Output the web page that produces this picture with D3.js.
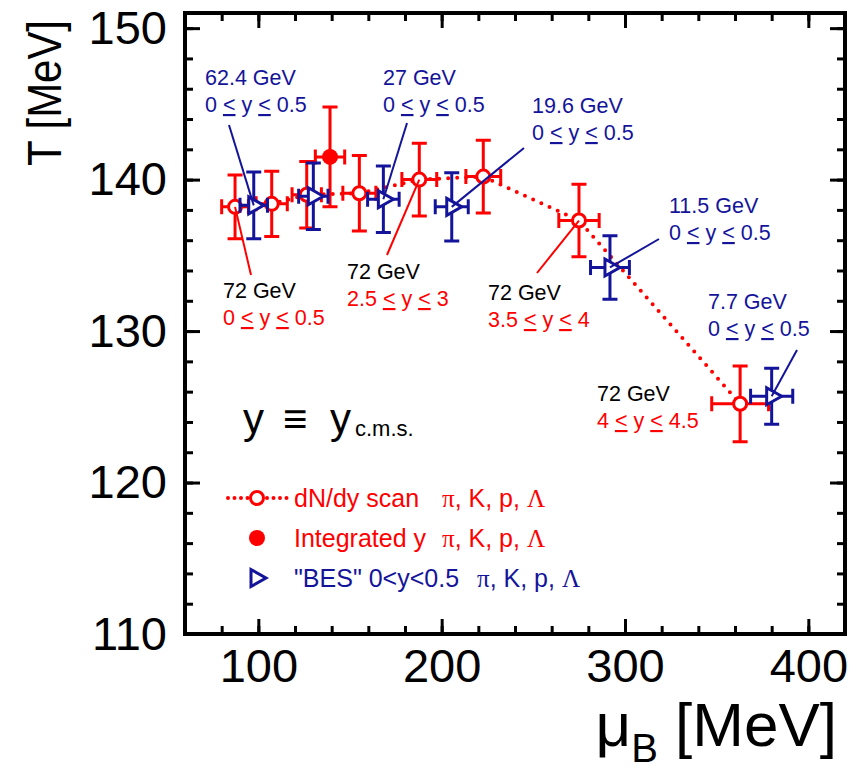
<!DOCTYPE html>
<html>
<head>
<meta charset="utf-8">
<script src="https://cdn.jsdelivr.net/npm/d3@7"></script>
<style>
  body { margin: 0; background: #fff; }
  svg text { font-family: "Liberation Sans", Arial, sans-serif; }
</style>
</head>
<body>
<svg id="chart" width="860" height="780"></svg>
<script>
// dN/dy scan, 72 GeV (open red circles, dotted line)
var scanMu    = [87.3, 107.3, 126.4, 155.1, 187.8, 222.7, 274.9, 362.8];
var scanT     = [138.2, 138.4, 139.0, 139.1, 140.0, 140.2, 137.3, 125.2];
var scanMuErr = [7.3, 8.5, 8, 9, 9.5, 9.5, 11, 15.5];
var scanTErr  = [2.1, 2.15, 2.2, 2.5, 2.4, 2.4, 2.4, 2.5];

// integrated y (filled red circle)
var integMu    = [139.1];
var integT     = [141.5];
var integMuErr = [8];
var integTErr  = [3.3];

// "BES" 0<y<0.5 (open blue triangles)
var besMu    = [97.5, 130.0, 168.2, 205.5, 291.8, 380.0];
var besT     = [138.3, 138.9, 138.7, 138.2, 134.2, 125.7];
var besMuErr = [7.5, 8, 8.6, 9, 10.6, 11.5];
var besTErr  = [2.2, 2.2, 2.2, 2.25, 2.1, 1.85];

var xTicks = [100, 200, 300, 400];
var yTicks = [110, 120, 130, 140, 150];

var RED = "#ff0000", BLUE = "#14149b";

var margin = {top: 13, right: 15, bottom: 146, left: 185},
    width  = 860 - margin.left - margin.right,
    height = 780 - margin.top - margin.bottom;

var x = d3.scaleLinear().domain([60, 420]).range([0, width]);
var y = d3.scaleLinear().domain([110, 151]).range([height, 0]);

var svg = d3.select("#chart");
var g = svg.append("g")
           .attr("transform", "translate(" + margin.left + "," + margin.top + ")");

function rows(mu, t, muErr, tErr) {
  return mu.map(function(m, i) { return {mu: m, t: t[i], muErr: muErr[i], tErr: tErr[i]}; });
}
var scan  = rows(scanMu, scanT, scanMuErr, scanTErr);
var integ = rows(integMu, integT, integMuErr, integTErr);
var bes   = rows(besMu, besT, besMuErr, besTErr);

// ---- axes: inward ticks on all four sides
function ticks(axis, vals, size, pad, fmt) {
  return axis.tickValues(vals).tickSize(-size).tickPadding(pad).tickFormat(fmt);
}
var xMinor = d3.range(60, 421, 20), yMinor = d3.range(110, 151, 2);
var none = function() { return ""; };

var axes = [
  [d3.axisBottom(x), xMinor, 8,  0,  none, "translate(0," + height + ")"],
  [d3.axisBottom(x), xTicks, 15, 15, d3.format("d"), "translate(0," + height + ")"],
  [d3.axisTop(x),    xMinor, 8,  0,  none, null],
  [d3.axisTop(x),    xTicks, 15, 0,  none, null],
  [d3.axisLeft(y),   yMinor, 8,  0,  none, null],
  [d3.axisLeft(y),   yTicks, 15, 18, d3.format("d"), null],
  [d3.axisRight(y),  yMinor, 8,  0,  none, "translate(" + width + ",0)"],
  [d3.axisRight(y),  yTicks, 15, 0,  none, "translate(" + width + ",0)"]
];
axes.forEach(function(a) {
  var ax = g.append("g").attr("transform", a[5])
            .call(ticks(a[0], a[1], a[2], a[3], a[4]));
  ax.select(".domain").remove();
  ax.selectAll("line").attr("stroke", "#000").attr("stroke-width", 3);
  ax.selectAll("text").attr("font-size", 47)
    .attr("font-family", "Liberation Sans, Arial, sans-serif").attr("fill", "#000");
});

g.append("rect")
 .attr("width", width).attr("height", height)
 .attr("fill", "none").attr("stroke", "#000").attr("stroke-width", 4);

// axis titles
svg.append("text")
   .attr("transform", "translate(61,20)rotate(-90)")
   .attr("text-anchor", "end")
   .attr("font-size", 48)
   .attr("textLength", 146).attr("lengthAdjust", "spacingAndGlyphs")
   .text("T [MeV]");

var xt = svg.append("text").attr("x", 837).attr("y", 746)
            .attr("text-anchor", "end").attr("font-size", 62);
xt.append("tspan").text("\u03bc");
xt.append("tspan").attr("font-size", 40).attr("dy", 16).text("B");
xt.append("tspan").attr("dy", -16).text(" [MeV]");

// ---- error bars
var CAP = 7.5;
function errPath(d) {
  var cx = x(d.mu), cy = y(d.t),
      x0 = x(d.mu - d.muErr), x1 = x(d.mu + d.muErr),
      y0 = y(d.t - d.tErr),   y1 = y(d.t + d.tErr);
  return "M" + x0 + "," + cy + "H" + x1 +
         "M" + x0 + "," + (cy - CAP) + "V" + (cy + CAP) +
         "M" + x1 + "," + (cy - CAP) + "V" + (cy + CAP) +
         "M" + cx + "," + y0 + "V" + y1 +
         "M" + (cx - CAP) + "," + y0 + "H" + (cx + CAP) +
         "M" + (cx - CAP) + "," + y1 + "H" + (cx + CAP);
}
function drawErrors(data, color) {
  g.append("g").selectAll("path").data(data).enter().append("path")
   .attr("d", errPath)
   .attr("fill", "none").attr("stroke", color).attr("stroke-width", 3);
}

// dotted connecting line for the scan
var line = d3.line().x(function(d) { return x(d.mu); }).y(function(d) { return y(d.t); });
g.append("path").datum(scan).attr("d", line)
 .attr("fill", "none").attr("stroke", RED).attr("stroke-width", 4)
 .attr("stroke-linecap", "round").attr("stroke-dasharray", "0,9");

drawErrors(scan, RED);
drawErrors(integ, RED);

g.append("g").selectAll("circle").data(scan).enter().append("circle")
 .attr("cx", function(d) { return x(d.mu); }).attr("cy", function(d) { return y(d.t); })
 .attr("r", 6.5).attr("fill", "#fff").attr("stroke", RED).attr("stroke-width", 3);

g.append("g").selectAll("circle").data(integ).enter().append("circle")
 .attr("cx", function(d) { return x(d.mu); }).attr("cy", function(d) { return y(d.t); })
 .attr("r", 8).attr("fill", RED);

drawErrors(bes, BLUE);
var tri = "M-5,-8.5L10,0L-5,8.5Z";
g.append("g").selectAll("path").data(bes).enter().append("path")
 .attr("d", tri)
 .attr("transform", function(d) { return "translate(" + x(d.mu) + "," + y(d.t) + ")"; })
 .attr("fill", "#fff").attr("stroke", BLUE).attr("stroke-width", 3);

// ---- annotations (label pixel position, leader start, which point it points at)
var notes = [
  {head: "62.4 GeV", range: "0 \u2264 y \u2264 0.5", hc: BLUE, rc: BLUE, x: 205, y: 85,  from: [229, 125], to: bes[0]},
  {head: "27 GeV",   range: "0 \u2264 y \u2264 0.5", hc: BLUE, rc: BLUE, x: 383, y: 85,  from: [407, 123], to: bes[2]},
  {head: "19.6 GeV", range: "0 \u2264 y \u2264 0.5", hc: BLUE, rc: BLUE, x: 532, y: 113, from: [524, 148], to: bes[3]},
  {head: "11.5 GeV", range: "0 \u2264 y \u2264 0.5", hc: BLUE, rc: BLUE, x: 669, y: 213, from: [659, 239], to: bes[4]},
  {head: "7.7 GeV",  range: "0 \u2264 y \u2264 0.5", hc: BLUE, rc: BLUE, x: 708, y: 309, from: [797, 350], to: bes[5]},
  {head: "72 GeV", range: "0 \u2264 y \u2264 0.5", hc: "#000", rc: RED, x: 223, y: 298, from: [251, 275], to: scan[0]},
  {head: "72 GeV", range: "2.5 \u2264 y \u2264 3", hc: "#000", rc: RED, x: 347, y: 279, from: [387, 255], to: scan[4]},
  {head: "72 GeV", range: "3.5 \u2264 y \u2264 4", hc: "#000", rc: RED, x: 488, y: 300, from: [537, 273], to: scan[6]},
  {head: "72 GeV", range: "4 \u2264 y \u2264 4.5", hc: "#000", rc: RED, x: 597, y: 401, from: null, to: null}
];

// "<" with an underline, as in the original figure
function rangeText(sel, str) {
  str.split("\u2264").forEach(function(part, k) {
    if (k > 0) sel.append("tspan").attr("text-decoration", "underline").text("<");
    sel.append("tspan").text(part);
  });
}

notes.forEach(function(n) {
  if (n.from) {
    svg.append("line")
       .attr("x1", n.from[0]).attr("y1", n.from[1])
       .attr("x2", margin.left + x(n.to.mu)).attr("y2", margin.top + y(n.to.t))
       .attr("stroke", n.rc).attr("stroke-width", 2);
  }
  svg.append("text").attr("x", n.x).attr("y", n.y)
     .attr("font-size", 21.5).attr("fill", n.hc).text(n.head);
  var r = svg.append("text").attr("x", n.x).attr("y", n.y + 27)
             .attr("font-size", 21.5).attr("fill", n.rc).attr("xml:space", "preserve");
  rangeText(r, n.range);
});

// y == y_c.m.s.
var ycms = svg.append("text").attr("y", 433).attr("font-size", 42).attr("fill", "#000");
ycms.append("tspan").attr("x", 243).text("y");
ycms.append("tspan").attr("x", 283).attr("font-weight", "bold").text("\u2261");
ycms.append("tspan").attr("x", 330).text("y");
svg.append("text").attr("x", 355).attr("y", 436).attr("font-size", 22)
   .attr("font-family", "Open Sans, sans-serif").text("c.m.s.");

// ---- legend
function particles(sel) {
  sel.append("tspan").attr("font-family", "Liberation Serif, serif").text("\u03c0");
  sel.append("tspan").text(", K, p, ");
  sel.append("tspan").attr("font-family", "Liberation Serif, serif").text("\u039b");
}
var legend = svg.append("g");
legend.append("line").attr("x1", 228).attr("x2", 287).attr("y1", 498).attr("y2", 498)
      .attr("stroke", RED).attr("stroke-width", 4)
      .attr("stroke-linecap", "round").attr("stroke-dasharray", "0,6.5");
legend.append("circle").attr("cx", 257).attr("cy", 498).attr("r", 6.5)
      .attr("fill", "#fff").attr("stroke", RED).attr("stroke-width", 3);
legend.append("circle").attr("cx", 257).attr("cy", 538).attr("r", 8).attr("fill", RED);
legend.append("path").attr("d", tri).attr("transform", "translate(256,578)")
      .attr("fill", "#fff").attr("stroke", BLUE).attr("stroke-width", 3);

var legRows = [
  {label: "dN/dy scan",        color: RED,  y: 507, px: 442},
  {label: "Integrated y",      color: RED,  y: 547, px: 442},
  {label: "\"BES\" 0<y<0.5",   color: BLUE, y: 587, px: 477}
];
legRows.forEach(function(r) {
  legend.append("text").attr("x", 294).attr("y", r.y).attr("font-size", 25)
        .attr("fill", r.color).text(r.label);
  particles(legend.append("text").attr("x", r.px).attr("y", r.y)
                  .attr("font-size", 25).attr("fill", r.color));
});
</script>
</body>
</html>
